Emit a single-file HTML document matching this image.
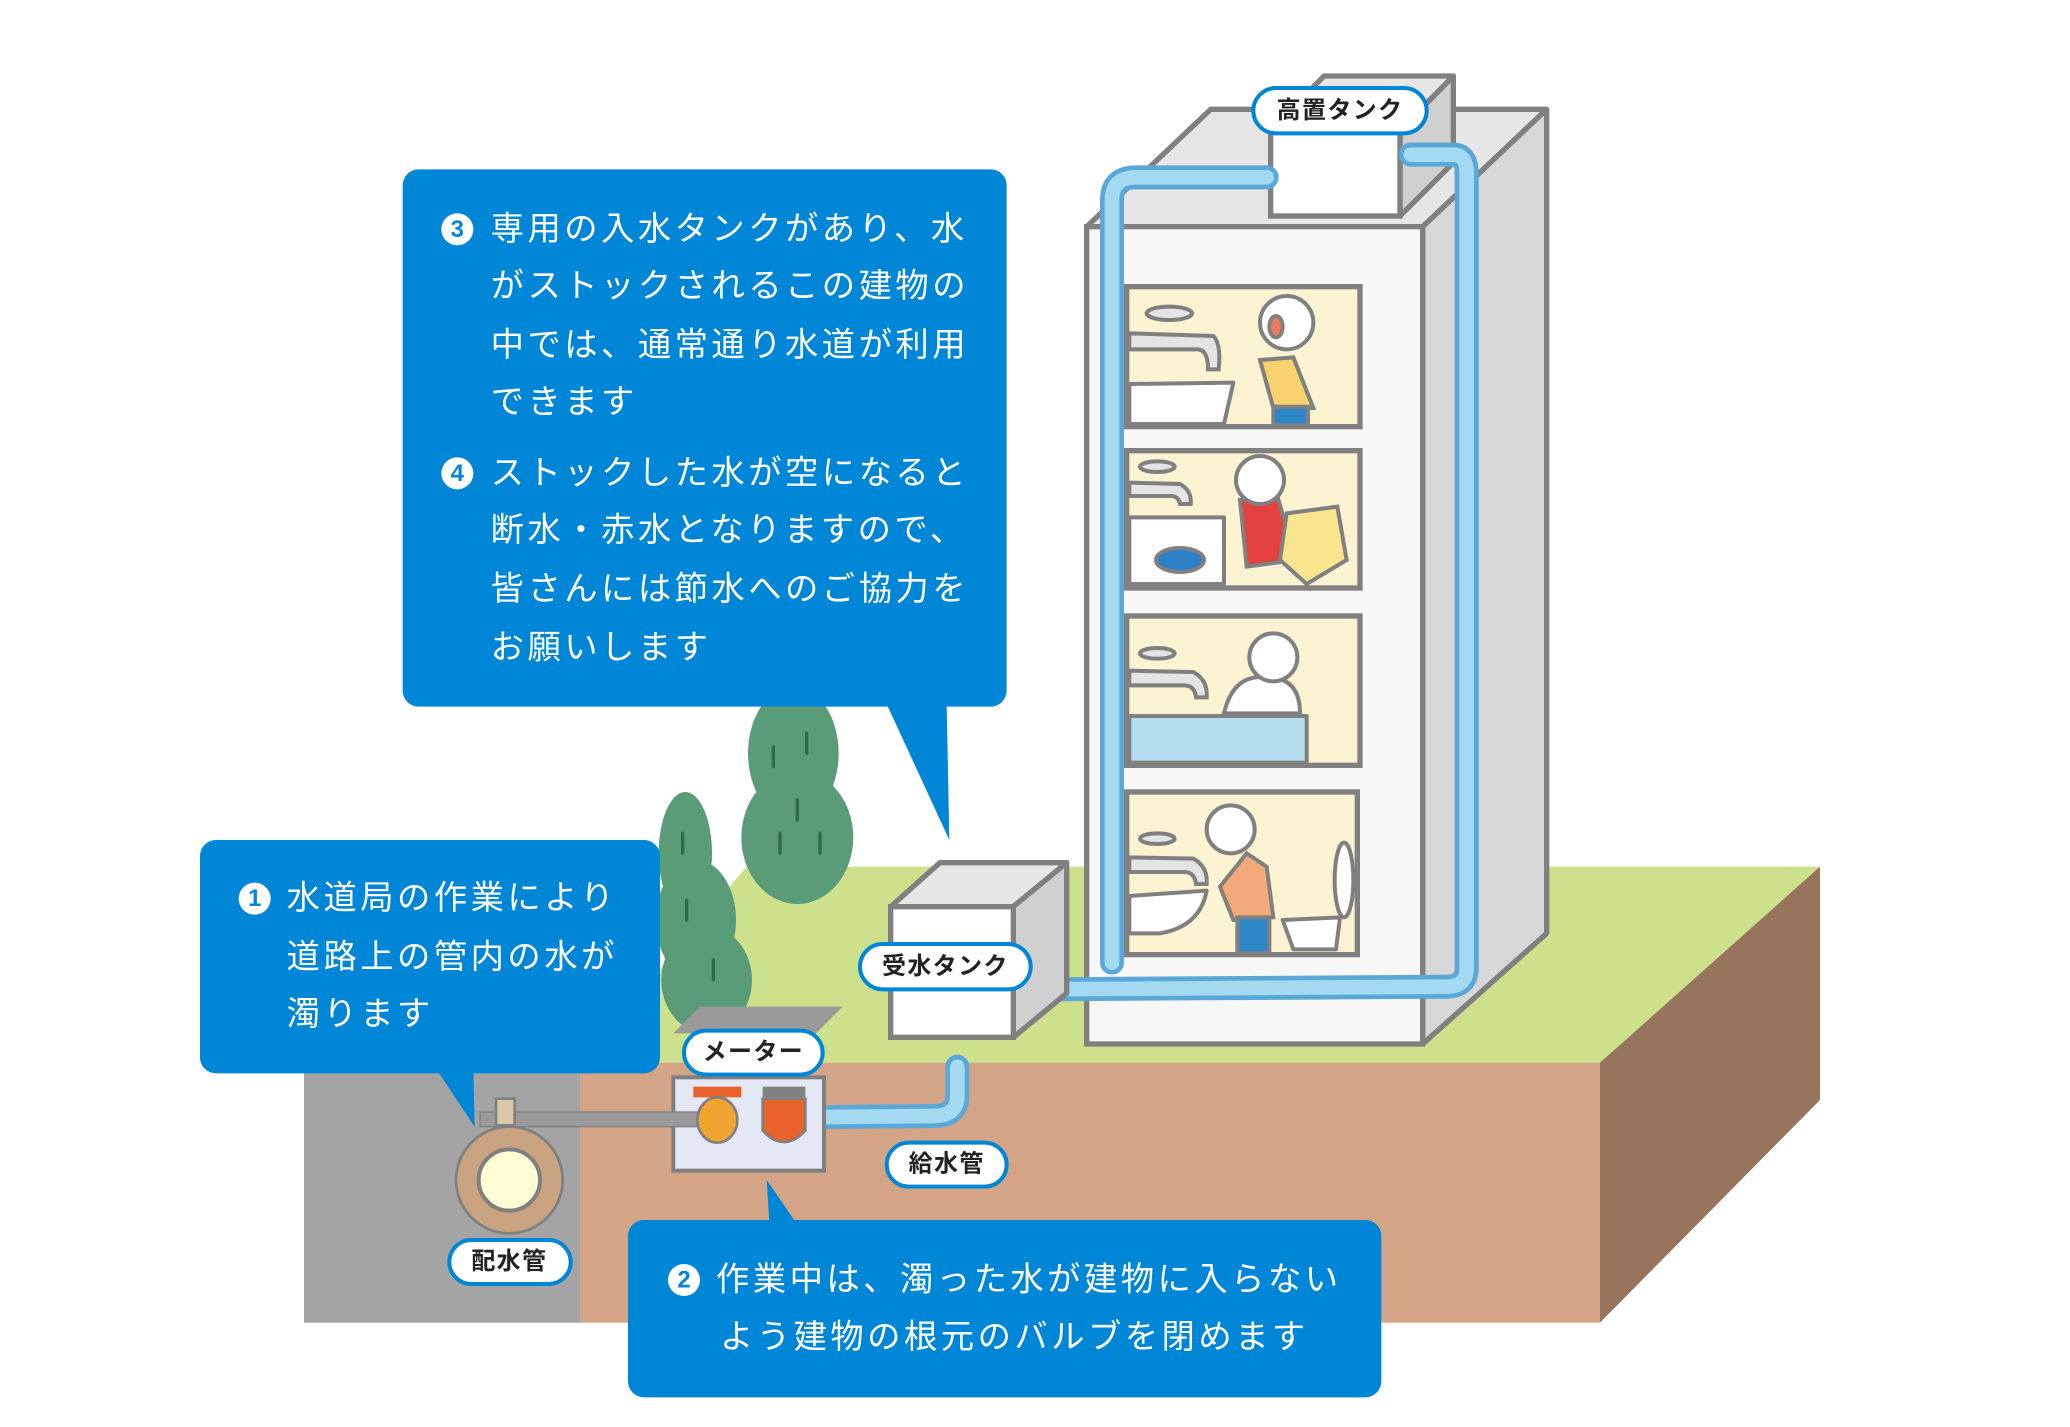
<!DOCTYPE html>
<html><head><meta charset="utf-8"><style>
html,body{margin:0;padding:0;background:#fff;}
svg{display:block;}
text{font-family:"Liberation Sans","Noto Sans CJK JP",sans-serif;}
</style></head><body>
<svg width="2070" height="1427" viewBox="0 0 1552.5 1070.25" preserveAspectRatio="none" xmlns="http://www.w3.org/2000/svg">
<rect width="1553" height="1071" fill="#fff"/>
<!-- ground -->
<polygon points="560,650 1365,650 1200,797 435,797" fill="#cde08b"/>
<rect x="435" y="797" width="765" height="195" fill="#d3a486"/>
<rect x="228" y="797" width="207" height="195" fill="#a4a4a4"/>
<polygon points="1200,797 1365,650 1365,825 1200,992" fill="#97745c"/>
<!-- trees -->
<ellipse cx="595" cy="565" rx="34" ry="50" fill="#5a9c78"/>
<ellipse cx="598" cy="628" rx="42" ry="50" fill="#5a9c78"/>
<ellipse cx="514" cy="640" rx="20" ry="46" fill="#5a9c78"/>
<ellipse cx="522" cy="690" rx="30" ry="45" fill="#5a9c78"/>
<ellipse cx="530" cy="735" rx="34" ry="40" fill="#5a9c78"/>
<g stroke="#2f6b4b" stroke-width="2.5" stroke-linecap="round">
<line x1="580" y1="560" x2="580" y2="575"/><line x1="605" y1="550" x2="605" y2="565"/><line x1="598" y1="600" x2="598" y2="615"/><line x1="585" y1="625" x2="585" y2="640"/><line x1="615" y1="625" x2="615" y2="640"/><line x1="512" y1="625" x2="512" y2="640"/><line x1="515" y1="675" x2="515" y2="690"/><line x1="535" y1="720" x2="535" y2="735"/>
</g>
<!-- building -->
<polygon points="815,170 908,82 1160,82 1067,170" fill="#e6e6e6" stroke="#808080" stroke-width="4" stroke-linejoin="round"/>
<polygon points="1067,170 1160,82 1160,700 1067,783" fill="#d7d7d7" stroke="#808080" stroke-width="4" stroke-linejoin="round"/>
<rect x="815" y="170" width="252" height="613" fill="#f7f7f7" stroke="#808080" stroke-width="4"/>
<!-- high tank -->
<polygon points="953,98 993,57 1090,57 1050,98" fill="#e6e6e6" stroke="#808080" stroke-width="4" stroke-linejoin="round"/>
<polygon points="1050,98 1090,57 1090,122 1050,162" fill="#d0d0d0" stroke="#808080" stroke-width="4" stroke-linejoin="round"/>
<rect x="953" y="98" width="97" height="64" fill="#fff" stroke="#808080" stroke-width="4"/>
<!-- rooms -->
<g fill="#fbf3d2" stroke="#808080" stroke-width="4">
<rect x="845" y="215" width="175" height="105"/>
<rect x="845" y="338" width="175" height="103"/>
<rect x="845" y="462" width="175" height="112"/>
<rect x="845" y="594" width="173" height="122"/>
</g>
<!-- room contents -->
<g stroke="#808080" stroke-width="3" stroke-linejoin="round">
<path d="M847,288 L925,287 L918,318 L847,318Z" fill="#fff"/>
<rect x="847" y="537" width="133" height="35" fill="#b5dff0"/>
<path d="M847,672 L905,668 Q900,695 870,700 L847,700Z" fill="#fff"/>
<path d="M847,388 L918,388 L918,438 L847,438Z" fill="#fff"/>
<ellipse cx="885" cy="420" rx="18" ry="9" fill="#2c80c8"/>
<path d="M962,690 L1005,688 L1002,712 L970,712Z" fill="#fff"/>
<ellipse cx="1008" cy="660" rx="7" ry="28" fill="#fff"/>
</g>
<g fill="#e4e4e4" stroke="#808080" stroke-width="3">
<ellipse cx="877" cy="235" rx="17" ry="5"/><path d="M847,250 L910,252 Q916,258 914,277 L906,277 Q906,262 898,262 L847,262Z"/>
<ellipse cx="868" cy="350" rx="13" ry="4"/><path d="M847,362 L885,363 Q894,368 893,378 L885,378 Q884,372 878,372 L847,372Z"/>
<ellipse cx="868" cy="490" rx="13" ry="4"/><path d="M847,503 L895,504 Q906,510 905,523 L897,523 Q896,514 888,514 L847,514Z"/>
<ellipse cx="868" cy="629" rx="13" ry="4"/><path d="M847,643 L895,644 Q906,650 905,663 L897,663 Q896,654 888,654 L847,654Z"/>
</g>
<!-- people -->
<g stroke="#808080" stroke-width="3">
<path d="M945,270 L970,268 L985,306 L955,306Z" fill="#f8d26e"/>
<rect x="955" y="305" width="26" height="14" fill="#2e87c6"/>
<circle cx="965" cy="242" r="20" fill="#fff"/>
<ellipse cx="957" cy="245" rx="5" ry="8" fill="#ee7a5c"/>
<path d="M930,375 L958,372 L972,420 L935,425Z" fill="#e2413f"/>
<circle cx="945" cy="360" r="18" fill="#fff"/>
<path d="M965,385 L1003,380 L1010,420 L980,438 L960,420Z" fill="#f9e58d"/>
<path d="M918,535 Q925,505 950,508 Q975,508 975,535Z" fill="#fff"/>
<circle cx="955" cy="493" r="18" fill="#fff"/>
<path d="M915,665 L935,640 L950,650 L955,688 L925,690Z" fill="#f4a97a"/>
<rect x="928" y="688" width="24" height="27" fill="#2e87c6"/>
<circle cx="923" cy="622" r="18" fill="#fff"/>
</g>
<!-- pipes -->
<g fill="none" stroke-linecap="round" stroke-linejoin="round">
<path d="M834,722 L834,150 Q834,133 852,133 L950,133" stroke="#5aa8d8" stroke-width="18"/>
<path d="M834,722 L834,150 Q834,133 852,133 L950,133" stroke="#a4d9f2" stroke-width="11"/>
<path d="M1058,116 L1090,116 Q1100,116 1100,130 L1100,726 Q1100,740 1085,740 L780,742" stroke="#5aa8d8" stroke-width="18"/>
<path d="M1058,116 L1090,116 Q1100,116 1100,130 L1100,726 Q1100,740 1085,740 L780,742" stroke="#a4d9f2" stroke-width="11"/>
<path d="M718,800 L718,822 Q718,837 700,837 L600,838" stroke="#5aa8d8" stroke-width="18"/>
<path d="M718,800 L718,822 Q718,837 700,837 L600,838" stroke="#a4d9f2" stroke-width="11"/>
</g>
<!-- receiving tank -->
<polygon points="668,680 705,647 800,647 760,680" fill="#e6e6e6" stroke="#808080" stroke-width="4" stroke-linejoin="round"/>
<polygon points="760,680 800,647 800,745 760,778" fill="#d0d0d0" stroke="#808080" stroke-width="4" stroke-linejoin="round"/>
<rect x="668" y="680" width="92" height="98" fill="#fff" stroke="#808080" stroke-width="4"/>
<!-- meter -->
<polygon points="505,775 525,755 632,755 612,775" fill="#9a9a9a"/>
<rect x="505" y="808" width="113" height="70" fill="#e4e8f4" stroke="#808080" stroke-width="3"/>
<rect x="360" y="834" width="170" height="11" fill="#9a9a9a" stroke="#808080" stroke-width="1"/>
<rect x="372" y="824" width="14" height="20" fill="#d9c7a8" stroke="#808080" stroke-width="2"/>
<rect x="520" y="815" width="36" height="8" fill="#e8632a"/>
<ellipse cx="538" cy="840" rx="15" ry="17" fill="#f2a431" stroke="#808080" stroke-width="2"/>
<rect x="572" y="815" width="32" height="8" fill="#808080"/>
<path d="M572,824 L604,824 L604,848 Q588,865 572,848Z" fill="#e8632a" stroke="#808080" stroke-width="2"/>
<!-- distribution pipe -->
<circle cx="382" cy="885" r="40" fill="#c9a27f" stroke="#808080" stroke-width="2"/>
<circle cx="382" cy="885" r="23" fill="#fffbd3" stroke="#808080" stroke-width="3"/>
<!-- bubbles -->
<g fill="#0086d6">
<rect x="302" y="127" width="453" height="403" rx="12"/>
<polygon points="665,528 710,528 712,630"/>
<rect x="150" y="630" width="345" height="175" rx="12"/>
<polygon points="328,803 355,803 356,845"/>
<rect x="471" y="915" width="565" height="133" rx="12"/>
<polygon points="577,917 597,917 575,885"/>
</g>
<g fill="#fff" font-size="25" letter-spacing="2.6" dominant-baseline="central">
<circle cx="343" cy="172" r="12"/><text x="343" y="172" fill="#0086d6" font-size="18" font-weight="bold" text-anchor="middle" letter-spacing="0">3</text>
<text x="368" y="172">専用の入水タンクがあり、水</text>
<text x="368" y="215">がストックされるこの建物の</text>
<text x="368" y="259">中では、通常通り水道が利用</text>
<text x="368" y="302">できます</text>
<circle cx="343" cy="355" r="12"/><text x="343" y="355" fill="#0086d6" font-size="18" font-weight="bold" text-anchor="middle" letter-spacing="0">4</text>
<text x="368" y="355">ストックした水が空になると</text>
<text x="368" y="398">断水・赤水となりますので、</text>
<text x="368" y="442">皆さんには節水へのご協力を</text>
<text x="368" y="486">お願いします</text>
<circle cx="191" cy="674" r="12"/><text x="191" y="674" fill="#0086d6" font-size="18" font-weight="bold" text-anchor="middle" letter-spacing="0">1</text>
<text x="215" y="674">水道局の作業により</text>
<text x="215" y="718">道路上の管内の水が</text>
<text x="215" y="761">濁ります</text>
<circle cx="513" cy="960" r="12"/><text x="513" y="960" fill="#0086d6" font-size="18" font-weight="bold" text-anchor="middle" letter-spacing="0">2</text>
<text x="537" y="960">作業中は、濁った水が建物に入らない</text>
<text x="540" y="1003">よう建物の根元のバルブを閉めます</text>
</g>
<!-- labels -->
<g fill="#fff" stroke="#0086d6" stroke-width="3">
<rect x="940" y="66" width="130" height="34" rx="17"/>
<rect x="645" y="708" width="128" height="34" rx="17"/>
<rect x="513" y="773" width="104" height="33" rx="16.5"/>
<rect x="665" y="857" width="90" height="33" rx="16.5"/>
<rect x="337" y="930" width="91" height="33" rx="16.5"/>
</g>
<g fill="#222" font-size="18" font-weight="bold" text-anchor="middle" dominant-baseline="central" letter-spacing="1">
<text x="1005" y="83">高置タンク</text>
<text x="709" y="725">受水タンク</text>
<text x="565" y="789">メーター</text>
<text x="710" y="873">給水管</text>
<text x="382" y="946">配水管</text>
</g>
</svg>
</body></html>
